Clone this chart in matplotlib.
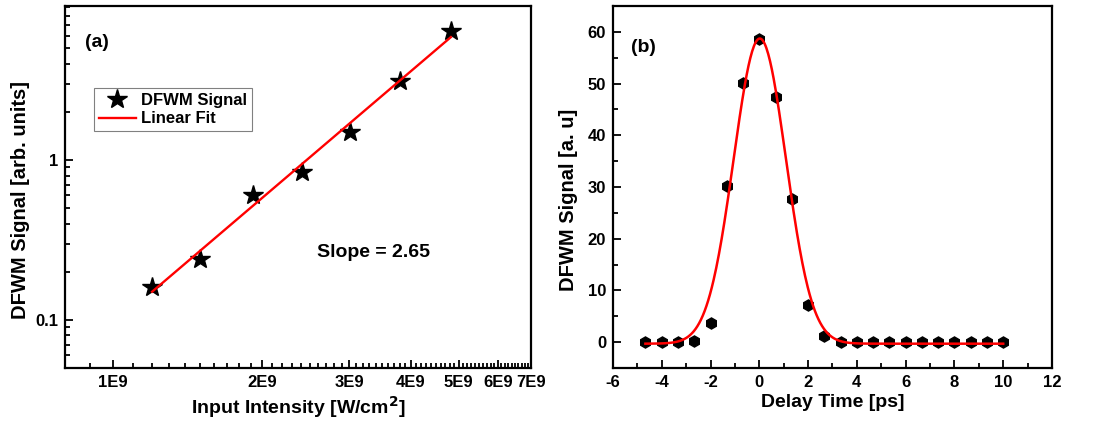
import matplotlib
matplotlib.use("Agg")
import matplotlib.pyplot as plt
import numpy as np
from matplotlib.ticker import FixedLocator, MultipleLocator

plt.rcParams['font.family'] = ['Liberation Sans', 'DejaVu Sans']
plt.rcParams['font.weight'] = 'bold'
plt.rcParams['axes.unicode_minus'] = False

# (a) power dependence
intensity = [1.2e9, 1.5e9, 1.92e9, 2.41e9, 3.01e9, 3.80e9, 4.82e9]
signal_a = [0.161, 0.240, 0.604, 0.84, 1.50, 3.12, 6.4]
fit_x = [1.2e9, 4.82e9]
fit_y = [0.150, 5.87]
slope_text = "Slope = 2.65"

xticks_a = [1e9, 2e9, 3e9, 4e9, 5e9, 6e9, 7e9]
xlabels_a = ["1E9", "2E9", "3E9", "4E9", "5E9", "6E9", "7E9"]

# (b) delay scan
delay = [-4.67, -4.0, -3.33, -2.67, -2.0, -1.33, -0.67, 0.0, 0.67, 1.33, 2.0, 2.67,
         3.33, 4.0, 4.67, 5.33, 6.0, 6.67, 7.33, 8.0, 8.67, 9.33, 10.0]
signal_b = [0.1, 0.1, 0.1, 0.3, 3.7, 30.1, 50.1, 58.6, 47.4, 27.7, 7.2, 1.2,
            0.1, 0.1, 0.1, 0.1, 0.1, 0.0, 0.0, 0.0, 0.0, 0.0, 0.0]
# gaussian fit parameters
g_y0 = -0.3
g_amp = 59.0
g_xc = 0.02
g_sigma = 1.07

fig = plt.figure(figsize=(10.94, 4.21), dpi=100)
ax1 = fig.add_axes([0.0594, 0.1259, 0.426, 0.86])
ax2 = fig.add_axes([0.5603, 0.1259, 0.4013, 0.86])

for ax in (ax1, ax2):
    for s in ax.spines.values():
        s.set_linewidth(1.6)
    ax.tick_params(which='both', direction='in', top=False, right=False, width=1.3, labelsize=12, pad=5)
    ax.tick_params(which='major', length=6)
    ax.tick_params(which='minor', length=3.5)

# panel a
ax1.set_xscale('log')
ax1.set_yscale('log')
ax1.plot(intensity, signal_a, linestyle='none', marker='*', markersize=15, color='black', label='DFWM Signal')
ax1.plot(fit_x, fit_y, color='red', linewidth=1.7, label='Linear Fit')
ax1.set_xlim(8e8, 7e9)
ax1.set_ylim(0.05, 9.2)
ax1.xaxis.set_major_locator(FixedLocator(xticks_a))
ax1.set_xticklabels(xlabels_a)
ax1.xaxis.set_minor_locator(FixedLocator(np.arange(8e8, 7.01e9, 1e8)))
ax1.xaxis.set_minor_formatter(plt.NullFormatter())
ax1.yaxis.set_major_locator(FixedLocator([0.1, 1]))
ax1.set_yticklabels(["0.1", "1"])
ax1.yaxis.set_minor_locator(FixedLocator([0.06, 0.07, 0.08, 0.09, 0.2, 0.3, 0.4, 0.5, 0.6, 0.7, 0.8, 0.9,
                                          2, 3, 4, 5, 6, 7, 8, 9]))
ax1.yaxis.set_minor_formatter(plt.NullFormatter())
ax1.set_xlabel("Input Intensity [W/cm$^\\mathbf{2}$]", fontsize=14, fontweight='bold', labelpad=3)
ax1.set_ylabel("DFWM Signal [arb. units]", fontsize=14.5, fontweight='bold')
ax1.yaxis.set_label_coords(-0.075, 0.464)
ax1.text(0.069, 0.898, "(a)", transform=ax1.transAxes, fontsize=14, fontweight='bold', ha='center', va='center')
ax1.text(0.661, 0.318, slope_text, transform=ax1.transAxes, fontsize=14, fontweight='bold', ha='center', va='center')
leg = ax1.legend(loc='upper left', bbox_to_anchor=(0.062, 0.773), borderaxespad=0, fancybox=False,
                 edgecolor='gray', framealpha=1, fontsize=12, handlelength=2.2, handletextpad=0.3,
                 borderpad=0.3, labelspacing=0.2)
leg.get_frame().set_linewidth(0.8)

# panel b
xs = np.linspace(min(delay), max(delay), 400)
fit_b = g_y0 + g_amp * np.exp(-(xs - g_xc) ** 2 / (2 * g_sigma ** 2))
ax2.plot(delay, signal_b, linestyle='none', marker='h', markersize=8, color='black')
ax2.plot(xs, fit_b, color='red', linewidth=1.8)
ax2.set_xlim(-6, 12)
ax2.set_ylim(-5, 65)
ax2.xaxis.set_major_locator(MultipleLocator(2))
ax2.xaxis.set_minor_locator(MultipleLocator(1))
ax2.yaxis.set_major_locator(FixedLocator([0, 10, 20, 30, 40, 50, 60]))
ax2.yaxis.set_minor_locator(FixedLocator([5, 15, 25, 35, 45, 55]))
ax2.set_xlabel("Delay Time [ps]", fontsize=14, fontweight='bold', labelpad=3)
ax2.set_ylabel("DFWM Signal [a. u]", fontsize=14.5, fontweight='bold')
ax2.yaxis.set_label_coords(-0.080, 0.464)
ax2.text(0.069, 0.884, "(b)", transform=ax2.transAxes, fontsize=14, fontweight='bold', ha='center', va='center')

fig.savefig("out.png", dpi=100)
